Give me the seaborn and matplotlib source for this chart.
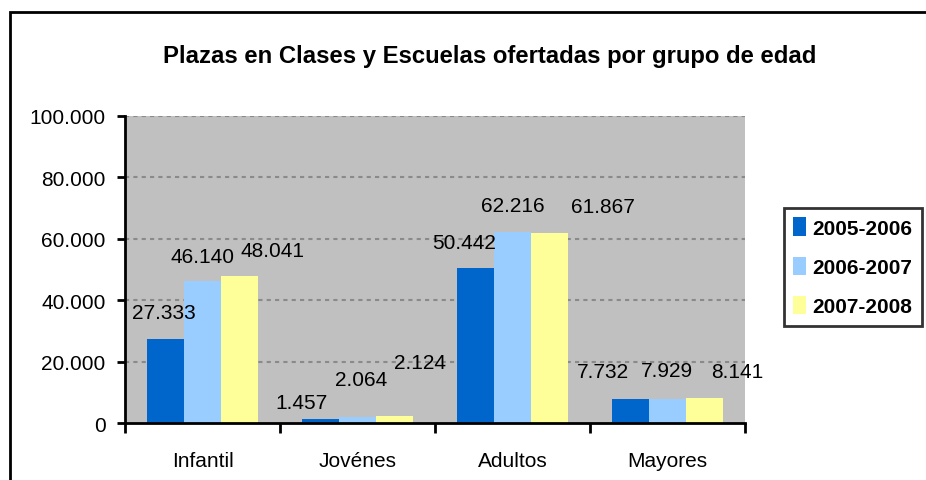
import matplotlib
matplotlib.use("Agg")
import matplotlib.pyplot as plt
from matplotlib.patches import Rectangle
from matplotlib.ticker import FuncFormatter, FixedLocator
import pandas as pd
import seaborn as sns

# data
grupos = ["Infantil", "Jovénes", "Adultos", "Mayores"]
temporadas = ["2005-2006", "2006-2007", "2007-2008"]
plazas_0506 = [27333, 1457, 50442, 7732]
plazas_0607 = [46140, 2064, 62216, 7929]
plazas_0708 = [48041, 2124, 61867, 8141]
y_ticks = [0, 20000, 40000, 60000, 80000, 100000]

colores = ["#0066CC", "#99CCFF", "#FFFF99"]

# label offsets in pixels (Excel labels were moved around by hand)
label_dx = [[-1, -19, -11, -27], [0, 4, 0, -1], [33, 25, 53, 33]]
label_dy = [[27, 16, 26, 28], [25, 37, 26, 28], [25, 54, 27, 27]]

df = pd.DataFrame({
    "grupo": grupos * 3,
    "temporada": [t for t in temporadas for _ in grupos],
    "plazas": plazas_0506 + plazas_0607 + plazas_0708,
})

sns.set_style("white")
plt.rcParams["font.family"] = ["Liberation Sans", "DejaVu Sans"]
plt.rcParams["text.color"] = "black"
plt.rcParams["xtick.labelcolor"] = "black"
plt.rcParams["ytick.labelcolor"] = "black"

fig = plt.figure(figsize=(9.26, 4.81), dpi=100)
ax = fig.add_axes([125 / 926, 1 - 424 / 481, 620 / 926, 307 / 481])
ax.set_facecolor("#C0C0C0")

sns.barplot(data=df, x="grupo", y="plazas", hue="temporada",
            order=grupos, hue_order=temporadas, palette=colores,
            width=0.72, gap=0, saturation=1, edgecolor="none",
            linewidth=0, ax=ax)

ax.set_ylim(0, 100000)
ax.set_xlim(-0.5, 3.5)
ax.yaxis.set_major_locator(FixedLocator(y_ticks))
ax.yaxis.set_major_formatter(FuncFormatter(lambda v, p: f"{int(v):,}".replace(",", ".")))
for v in y_ticks[1:]:
    ax.axhline(v, color="#8A8A8A", lw=1.5, ls=(0, (2, 2)), zorder=0.5)

for s in ["top", "right"]:
    ax.spines[s].set_visible(False)
for s in ["left", "bottom"]:
    ax.spines[s].set_color("black")
    ax.spines[s].set_linewidth(2)

ax.tick_params(axis="y", direction="out", length=6, width=2, color="black",
               labelsize=15, pad=8, left=True)
ax.set_xticks([-0.5, 0.5, 1.5, 2.5, 3.5], minor=True)
ax.tick_params(axis="x", which="minor", direction="out", length=7, width=2, color="black", bottom=True)
ax.tick_params(axis="x", which="major", length=0, labelsize=15, pad=20)
ax.set_xlabel("")
ax.set_ylabel("")

for i, cont in enumerate(ax.containers):
    for j, bar in enumerate(cont):
        val = bar.get_height()
        ax.annotate(f"{int(val):,}".replace(",", "."),
                    (bar.get_x() + bar.get_width() / 2, val),
                    xytext=(label_dx[i][j], label_dy[i][j]),
                    textcoords="offset pixels", ha="center", va="center",
                    fontsize=15, color="black")

fig.text(490 / 926, 1 - 57 / 481, "Plazas en Clases y Escuelas ofertadas por grupo de edad",
         ha="center", va="center", fontsize=17.2, fontweight="bold", color="black")

leg = ax.legend(loc="upper left", bbox_to_anchor=(784 / 926, 1 - 209 / 481),
                bbox_transform=fig.transFigure, borderaxespad=0,
                frameon=True, fancybox=False, prop={"weight": "bold", "size": 15},
                handlelength=0.6, handleheight=1.0, handletextpad=0.3,
                labelspacing=0.9, borderpad=0.45)
leg.get_frame().set_edgecolor("black")
leg.get_frame().set_linewidth(2)
leg.set_title(None)

fig.patches.append(Rectangle((10 / 926, -0.1), 1.2, 1.1 - 13 / 481,
                             transform=fig.transFigure, fill=False,
                             edgecolor="black", lw=2, zorder=10))

fig.savefig("out.png", dpi=100)
